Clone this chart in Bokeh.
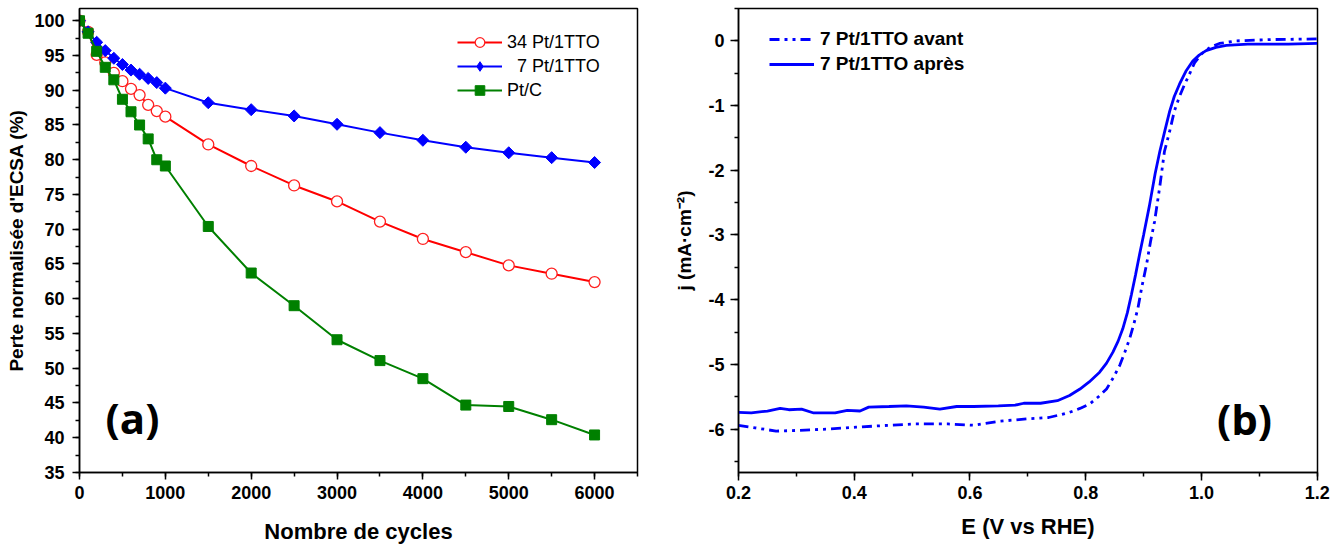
import numpy as np
from bokeh.plotting import figure
from bokeh.layouts import row
from bokeh.models import (Range1d, SingleIntervalTicker, PrintfTickFormatter,
                          Legend, LegendItem, Label)
from bokeh.embed import file_html
from bokeh.resources import INLINE

# ---------------- data: panel (a) ----------------
cycles = [0, 100, 200, 300, 400, 500, 600, 700, 800, 900, 1000,
          1500, 2000, 2500, 3000, 3500, 4000, 4500, 5000, 5500, 6000]
ecsa_34pt = [100, 98.4, 95.1, 94.0, 92.5, 91.3, 90.2, 89.3, 87.9, 87.0, 86.2,
             82.2, 79.1, 76.3, 74.0, 71.1, 68.6, 66.7, 64.8, 63.6, 62.4]
ecsa_7pt = [100, 98.4, 96.9, 95.7, 94.6, 93.7, 92.9, 92.3, 91.7, 91.1, 90.3,
            88.2, 87.2, 86.3, 85.1, 83.9, 82.8, 81.8, 81.0, 80.3, 79.6]
ecsa_ptc = [100, 98.2, 95.6, 93.3, 91.5, 88.7, 86.9, 85.0, 83.0, 80.0, 79.1,
            70.4, 63.7, 59.0, 54.1, 51.1, 48.5, 44.7, 44.5, 42.6, 40.4]

# ---------------- data: panel (b) ----------------
E_avant = [0.200, 0.229, 0.265, 0.301, 0.352, 0.403, 0.460, 0.504, 0.562, 0.606,
           0.649, 0.700, 0.736, 0.755, 0.772, 0.790, 0.807, 0.822, 0.836, 0.848,
           0.859, 0.868, 0.876, 0.883, 0.890, 0.897, 0.905, 0.912, 0.919, 0.928,
           0.936, 0.945, 0.953, 0.962, 0.971, 0.980, 0.988, 1.000, 1.015, 1.031,
           1.060, 1.120, 1.200]
j_avant = [-5.94, -5.98, -6.03, -6.02, -6.00, -5.97, -5.94, -5.92, -5.92, -5.94,
           -5.88, -5.84, -5.82, -5.78, -5.74, -5.68, -5.61, -5.50, -5.38, -5.20,
           -5.01, -4.80, -4.60, -4.38, -4.14, -3.80, -3.46, -3.10, -2.79, -2.25,
           -1.71, -1.40, -1.09, -0.86, -0.67, -0.50, -0.34, -0.20, -0.10, -0.04,
           0.00, 0.02, 0.03]
E_apres = [0.200, 0.222, 0.250, 0.272, 0.287, 0.309, 0.330, 0.367, 0.388, 0.410,
           0.425, 0.460, 0.490, 0.520, 0.548, 0.577, 0.606, 0.649, 0.678, 0.693,
           0.722, 0.751, 0.772, 0.790, 0.806, 0.824, 0.836, 0.847, 0.856, 0.864,
           0.872, 0.879, 0.886, 0.893, 0.900, 0.910, 0.920, 0.928, 0.937, 0.945,
           0.953, 0.962, 0.973, 0.985, 0.996, 1.008, 1.025, 1.043, 1.080, 1.150,
           1.200]
j_apres = [-5.74, -5.75, -5.72, -5.68, -5.70, -5.69, -5.75, -5.75, -5.71, -5.72,
           -5.66, -5.65, -5.64, -5.66, -5.69, -5.65, -5.65, -5.64, -5.63, -5.60,
           -5.60, -5.56, -5.48, -5.38, -5.27, -5.12, -4.98, -4.81, -4.64, -4.45,
           -4.20, -3.92, -3.62, -3.30, -3.00, -2.55, -2.05, -1.71, -1.38, -1.09,
           -0.86, -0.67, -0.47, -0.31, -0.22, -0.15, -0.10, -0.07, -0.05, -0.05,
           -0.04]

FONT = "Liberation Sans"


def style(p, xlabel, ylabel, tick_out=7):
    p.xgrid.visible = False
    p.ygrid.visible = False
    p.outline_line_color = "black"
    p.outline_line_width = 1.5
    p.outline_line_alpha = 1.0
    p.background_fill_color = "white"
    p.border_fill_color = "white"
    for ax in (p.xaxis[0], p.yaxis[0]):
        ax.axis_line_color = "black"
        ax.axis_line_width = 1.5
        ax.major_tick_line_color = "black"
        ax.minor_tick_line_color = "black"
        ax.major_tick_line_width = 1.5
        ax.minor_tick_line_width = 1.5
        ax.major_tick_in = 0
        ax.minor_tick_in = 0
        ax.major_tick_out = tick_out
        ax.minor_tick_out = 4
        ax.major_label_text_font = FONT
        ax.major_label_text_font_style = "bold"
        ax.major_label_text_font_size = "18px"
        ax.major_label_text_color = "black"
        ax.axis_label_text_font = FONT
        ax.axis_label_text_font_style = "bold"
        ax.axis_label_text_color = "black"
    p.xaxis[0].axis_label = xlabel
    p.yaxis[0].axis_label = ylabel


# ---------------- panel (a) ----------------
p1 = figure(width=668, height=546, x_range=Range1d(0, 6500), y_range=Range1d(35, 101.76),
            output_backend="svg", toolbar_location=None,
            min_border_left=79, min_border_right=31, min_border_top=8, min_border_bottom=74)
style(p1, "Nombre de cycles", "Perte normalisée d'ECSA (%)")
p1.xaxis[0].ticker = SingleIntervalTicker(interval=1000, num_minor_ticks=2)
p1.yaxis[0].ticker = SingleIntervalTicker(interval=5, num_minor_ticks=2)
p1.xaxis[0].axis_label_text_font_size = "22px"
p1.yaxis[0].axis_label_text_font_size = "19px"
p1.xaxis[0].major_label_standoff = 6
p1.xaxis[0].axis_label_standoff = 17
p1.yaxis[0].major_label_standoff = 8
p1.yaxis[0].axis_label_standoff = 4

l34 = p1.line(cycles, ecsa_34pt, line_color="#FF0000", line_width=2)
s34 = p1.scatter(cycles, ecsa_34pt, marker="circle", size=11, line_color="#FF2020",
                 line_width=1.3, fill_color="white")
l7 = p1.line(cycles, ecsa_7pt, line_color="#0000FF", line_width=2)
s7 = p1.scatter(cycles, ecsa_7pt, marker="square", angle=np.pi / 4, size=8.5,
                line_color="#0000FF", fill_color="#0000FF")
lc = p1.line(cycles, ecsa_ptc, line_color="#008000", line_width=2)
sc = p1.scatter(cycles, ecsa_ptc, marker="square", size=10, line_color="#008000",
                fill_color="#008000")
# legend-only diamond glyph (its point is NaN, so nothing is drawn in the plot)
d7 = p1.scatter([float("nan")], [float("nan")], marker="diamond", size=15,
                line_color="#0000FF", fill_color="#0000FF")

leg1 = Legend(items=[LegendItem(label="34 Pt/1TTO", renderers=[l34, s34]),
                     LegendItem(label="\u00a0\u00a07 Pt/1TTO", renderers=[l7, d7]),
                     LegendItem(label="Pt/C", renderers=[lc, sc])],
              location=(378, 370), padding=0, margin=0, spacing=0,
              glyph_width=45, glyph_height=24, label_height=24, label_standoff=5,
              label_text_font=FONT, label_text_font_size="18px", label_text_color="black",
              border_line_alpha=0, background_fill_alpha=0)
p1.add_layout(leg1)

p1.add_layout(Label(x=53, y=55, x_units="screen", y_units="screen", text="(a)",
                    text_font="Open Sans", text_font_style="bold", text_font_size="42px",
                    text_align="center", text_baseline="middle", text_color="black"))

# ---------------- panel (b) ----------------
p2 = figure(width=670, height=546, x_range=Range1d(0.2, 1.2005), y_range=Range1d(-6.67, 0.5),
            output_backend="svg", toolbar_location=None,
            min_border_left=70, min_border_right=21, min_border_top=8, min_border_bottom=74)
style(p2, "E (V vs RHE)", "j (mA·cm⁻²)", tick_out=8)
p2.xaxis[0].ticker = SingleIntervalTicker(interval=0.2, num_minor_ticks=2)
p2.yaxis[0].ticker = SingleIntervalTicker(interval=1, num_minor_ticks=2)
p2.xaxis[0].formatter = PrintfTickFormatter(format="%.1f")
p2.yaxis[0].formatter = PrintfTickFormatter(format="%d")
p2.xaxis[0].axis_label_text_font_size = "22px"
p2.yaxis[0].axis_label_text_font_size = "19px"
p2.xaxis[0].major_label_standoff = 5
p2.xaxis[0].axis_label_standoff = 12
p2.yaxis[0].major_label_standoff = 6
p2.yaxis[0].axis_label_standoff = 10

la = p2.line(E_avant, j_avant, line_color="#0000FF", line_width=2.8,
             line_dash="10 5 3 5 3 5")
lp = p2.line(E_apres, j_apres, line_color="#0000FF", line_width=2.8)

leg2 = Legend(items=[LegendItem(label="7 Pt/1TTO avant", renderers=[la]),
                     LegendItem(label="7 Pt/1TTO après", renderers=[lp])],
              location=(31, 397), padding=0, margin=0, spacing=3,
              glyph_width=45, glyph_height=20, label_height=20, label_standoff=6,
              label_text_font=FONT, label_text_font_style="bold",
              label_text_font_size="19px", label_text_color="black",
              border_line_alpha=0, background_fill_alpha=0)
p2.add_layout(leg2)

p2.add_layout(Label(x=506, y=54, x_units="screen", y_units="screen", text="(b)",
                    text_font="Open Sans", text_font_style="bold", text_font_size="42px",
                    text_align="center", text_baseline="middle", text_color="black"))

layout = row(p1, p2)
open("out.html", "w").write(file_html(layout, INLINE))
